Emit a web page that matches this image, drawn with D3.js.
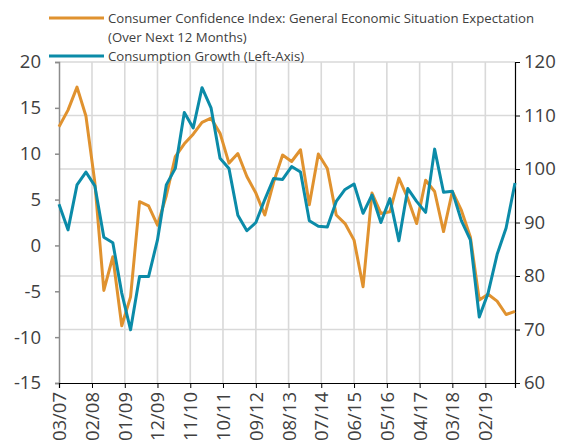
<!DOCTYPE html>
<html>
<head>
<meta charset="utf-8">
<script src="https://cdn.jsdelivr.net/npm/d3@7"></script>
<style>
  body { margin: 0; background: #fff; }
  #chart text { font-family: "Open Sans", "Liberation Sans", sans-serif; fill: #404040; }
</style>
</head>
<body>
<div id="chart"></div>
<script>
// quarterly observations, Mar 2007 .. Dec 2019
const quarters = d3.timeMonth.range(new Date(2007, 2, 1), new Date(2020, 0, 1), 3);

const tickLabels = ["03/07", "02/08", "01/09", "12/09", "11/10", "10/11", "09/12",
  "08/13", "07/14", "06/15", "05/16", "04/17", "03/18", "02/19"];

// Consumer Confidence Index (right axis)
const confidence = [107.9, 111.0, 115.3, 109.9, 97.5, 77.3, 83.6, 70.7, 76.1, 93.9,
  93.1, 89.5, 95.0, 102.3, 104.7, 106.5, 108.7, 109.5, 106.7, 101.1,
  102.9, 98.6, 95.5, 91.4, 97.5, 102.6, 101.4, 103.6, 93.3, 102.8,
  100.1, 91.4, 89.8, 86.7, 78.0, 95.5, 91.7, 92.0, 98.3, 94.5,
  89.8, 97.9, 95.8, 88.3, 95.8, 92.3, 87.3, 75.5, 76.6, 75.3,
  72.8, 73.4];

// Consumption Growth (left axis)
const consumption = [4.5, 1.7, 6.6, 8.0, 6.5, 0.9, 0.3, -5.2, -9.2, -3.4,
  -3.4, 0.6, 6.6, 8.4, 14.5, 12.8, 17.2, 15.0, 9.5, 8.4,
  3.3, 1.6, 2.5, 5.0, 7.3, 7.2, 8.6, 8.0, 2.7, 2.1,
  2.0, 4.8, 6.1, 6.7, 3.5, 5.5, 2.5, 5.1, 0.5, 6.2,
  4.8, 3.6, 10.5, 5.8, 5.9, 2.7, 0.6, -7.8, -5.2, -1.0,
  1.9, 6.8];

const leftTicks = [-15, -10, -5, 0, 5, 10, 15, 20];
const rightTicks = [60, 70, 80, 90, 100, 110, 120];

const width = 577;
const height = 448;
const margin = { top: 62, right: 62, bottom: 65, left: 59 };

const parseTick = d3.timeParse("%m/%y");
const tickDates = tickLabels.map(parseTick);

const svg = d3.select("#chart")
  .append("svg")
  .attr("width", width)
  .attr("height", height);

const x = d3.scaleTime()
  .domain([quarters[0], quarters[quarters.length - 1]])
  .range([margin.left, width - margin.right]);

const yLeft = d3.scaleLinear()
  .domain([-15, 20])
  .range([height - margin.bottom, margin.top]);

const yRight = d3.scaleLinear()
  .domain([60, 120])
  .range([height - margin.bottom, margin.top]);

const x0 = margin.left;
const x1 = x.range()[1];

// grid
svg.append("g")
  .selectAll("line")
  .data(tickDates.slice(1))
  .enter()
  .append("line")
  .attr("x1", (d) => x(d))
  .attr("x2", (d) => x(d))
  .attr("y1", margin.top)
  .attr("y2", height - margin.bottom)
  .attr("stroke", "#d9d9d9")
  .attr("stroke-width", 1.6);

svg.append("g")
  .selectAll("line")
  .data(rightTicks.slice(1))
  .enter()
  .append("line")
  .attr("x1", x0)
  .attr("x2", x1)
  .attr("y1", (d) => yRight(d))
  .attr("y2", (d) => yRight(d))
  .attr("stroke", "#d9d9d9")
  .attr("stroke-width", 1.6);

// axes
const gLeft = svg.append("g")
  .attr("transform", `translate(${x0},0)`)
  .call(d3.axisLeft(yLeft).tickValues(leftTicks).tickSize(4).tickPadding(14).tickFormat((d) => String(d)));
gLeft.select(".domain").attr("stroke", "#8c8c8c").attr("stroke-width", 1.5);
gLeft.selectAll(".tick line").attr("stroke", "#8c8c8c").attr("stroke-width", 1.5);

const gRight = svg.append("g")
  .attr("transform", `translate(${x1},0)`)
  .call(d3.axisRight(yRight).tickValues(rightTicks).tickSize(5).tickPadding(4));
gRight.select(".domain").attr("stroke", "#000").attr("stroke-width", 1.2);
gRight.selectAll(".tick line").attr("stroke", "#000");

const gBottom = svg.append("g")
  .attr("transform", `translate(0,${height - margin.bottom})`)
  .call(d3.axisBottom(x).tickValues(tickDates).tickSize(5).tickFormat((d, i) => tickLabels[i]));
gBottom.select(".domain").attr("stroke", "#000").attr("stroke-width", 1.2);
gBottom.selectAll(".tick line").attr("stroke", "#000");
gBottom.selectAll(".tick text")
  .attr("transform", "rotate(-90)")
  .attr("text-anchor", "end")
  .attr("x", -9)
  .attr("y", 0)
  .attr("dy", "0.35em");

svg.selectAll(".tick text").style("font-size", "18.5px");

// lines
const lineLeft = d3.line()
  .x((d, i) => x(quarters[i]))
  .y((d) => yLeft(d));

const lineRight = d3.line()
  .x((d, i) => x(quarters[i]))
  .y((d) => yRight(d));

svg.append("path")
  .datum(confidence)
  .attr("d", lineRight)
  .attr("fill", "none")
  .attr("stroke", "#e0922f")
  .attr("stroke-width", 3)
  .attr("stroke-linejoin", "round");

svg.append("path")
  .datum(consumption)
  .attr("d", lineLeft)
  .attr("fill", "none")
  .attr("stroke", "#0b8ba8")
  .attr("stroke-width", 3)
  .attr("stroke-linejoin", "round");

// legend
const legend = svg.append("g");
const legendItems = [
  { color: "#e0922f", y: 18, lines: ["Consumer Confidence Index: General Economic Situation Expectation", "(Over Next 12 Months)"] },
  { color: "#0b8ba8", y: 56, lines: ["Consumption Growth (Left-Axis)"] }
];
legendItems.forEach((item) => {
  legend.append("line")
    .attr("x1", 49).attr("x2", 104)
    .attr("y1", item.y).attr("y2", item.y)
    .attr("stroke", item.color)
    .attr("stroke-width", 3);
  item.lines.forEach((t, j) => {
    legend.append("text")
      .attr("x", 108)
      .attr("y", item.y + j * 19)
      .attr("dy", "0.35em")
      .style("font-size", "13.2px")
      .text(t);
  });
});
</script>
</body>
</html>
